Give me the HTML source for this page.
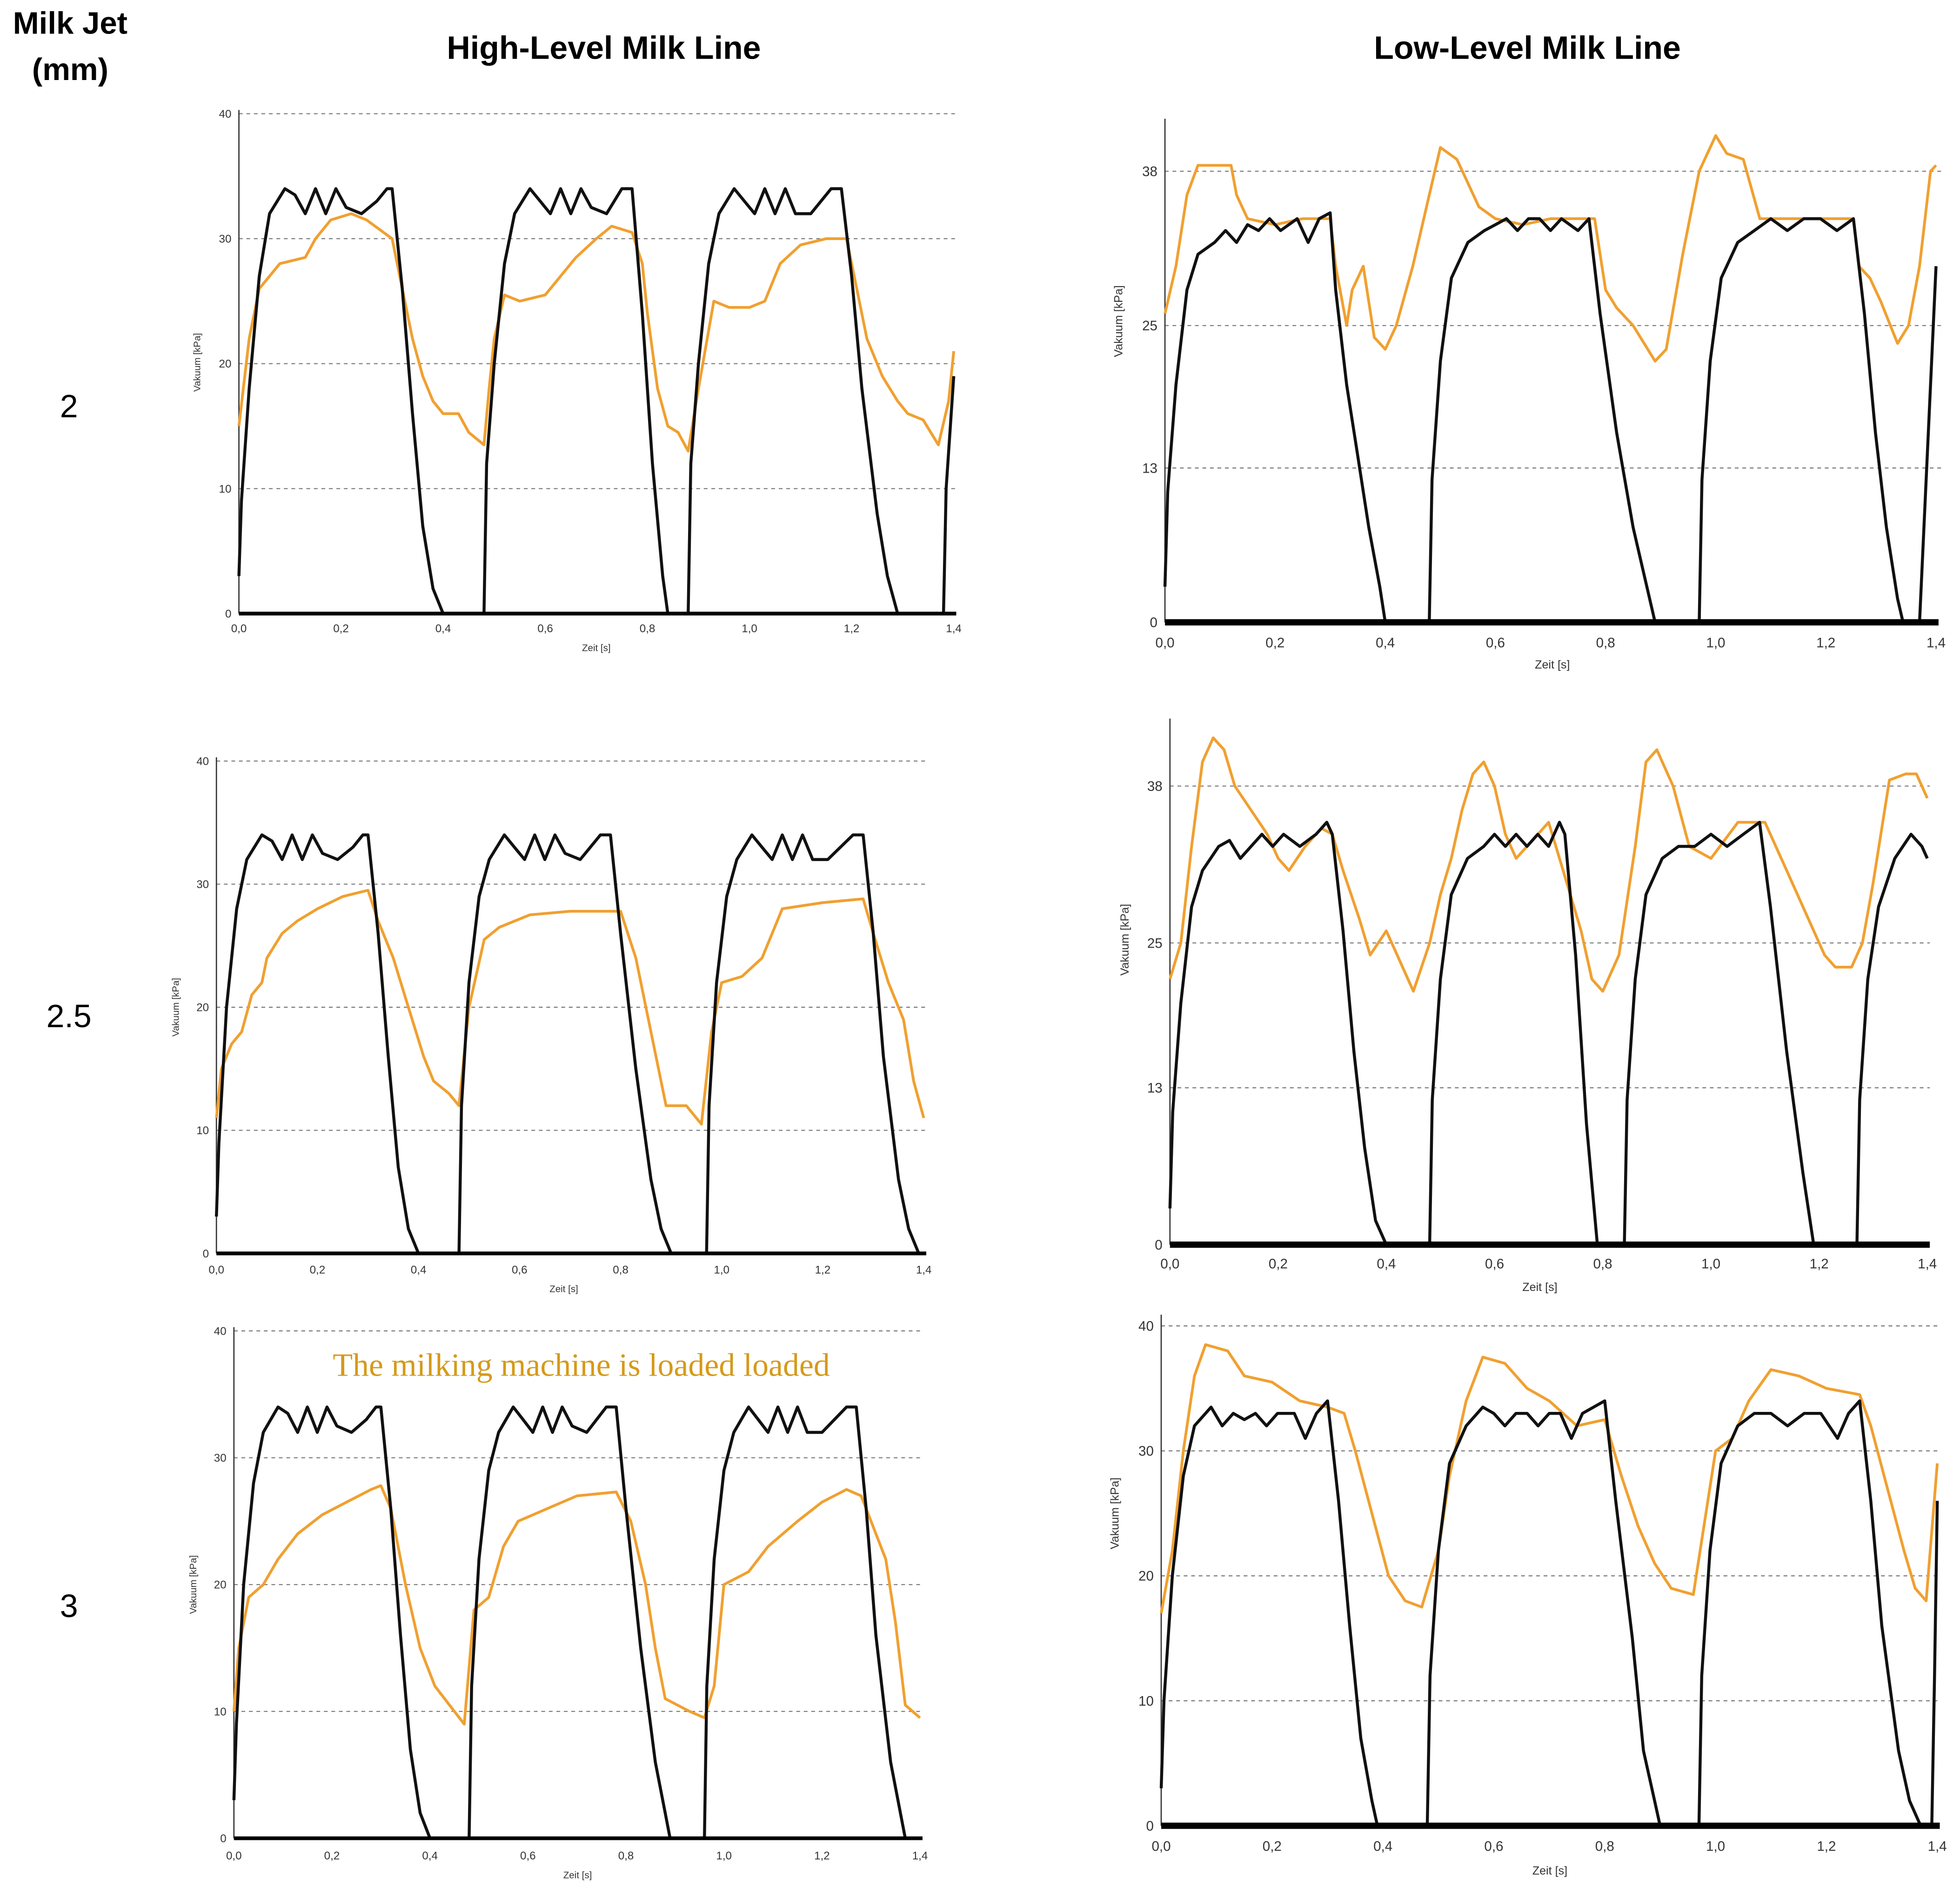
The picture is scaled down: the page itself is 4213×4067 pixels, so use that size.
<!DOCTYPE html>
<html><head><meta charset="utf-8"><style>
html,body{margin:0;padding:0;background:#fff}
svg{display:block}
</style></head><body>
<svg id="chart" xmlns="http://www.w3.org/2000/svg" width="4213" height="4067" viewBox="0 0 1568 1514" font-family="Liberation Sans, sans-serif">
<rect width="1568" height="1514" fill="#fff"/>
<text x="56" y="27" text-anchor="middle" font-size="25" font-weight="bold">Milk Jet</text>
<text x="56" y="64" text-anchor="middle" font-size="25" font-weight="bold">(mm)</text>
<text x="483" y="47" text-anchor="middle" font-size="26" font-weight="bold">High-Level Milk Line</text>
<text x="1222" y="47" text-anchor="middle" font-size="26" font-weight="bold">Low-Level Milk Line</text>
<text x="55" y="334" text-anchor="middle" font-size="26">2</text>
<text x="55" y="822" text-anchor="middle" font-size="26">2.5</text>
<text x="55" y="1294" text-anchor="middle" font-size="26">3</text>
<text x="465" y="1101" text-anchor="middle" font-size="26" font-family="Liberation Serif, serif" fill="#d59a1a">The milking machine is loaded loaded</text>
<g id="panels"></g>
</svg>
<script>
const xTickLabels = ["0,0","0,2","0,4","0,6","0,8","1,0","1,2","1,4"];
const xTickValues = [0,0.2,0.4,0.6,0.8,1.0,1.2,1.4];
const hlYTicks = [0,10,20,30,40];
const ll38YTicks = [0,13,25,38];
const ll40YTicks = [0,10,20,30,40];

const black1 = [[0,3],[0.005,9],[0.02,18],[0.04,27],[0.06,32],[0.09,34],[0.11,33.5],[0.13,32],[0.15,34],[0.17,32],[0.19,34],[0.21,32.5],[0.24,32],[0.27,33],[0.29,34],[0.3,34],[0.32,26],[0.34,16],[0.36,7],[0.38,2],[0.4,0],[0.48,0],[0.485,12],[0.5,20],[0.52,28],[0.54,32],[0.57,34],[0.59,33],[0.61,32],[0.63,34],[0.65,32],[0.67,34],[0.69,32.5],[0.72,32],[0.75,34],[0.77,34],[0.79,24],[0.81,12],[0.83,3],[0.84,0],[0.88,0],[0.885,12],[0.9,20],[0.92,28],[0.94,32],[0.97,34],[0.99,33],[1.01,32],[1.03,34],[1.05,32],[1.07,34],[1.09,32],[1.12,32],[1.16,34],[1.18,34],[1.2,27],[1.22,18],[1.25,8],[1.27,3],[1.29,0],[1.38,0],[1.385,10],[1.4,19]];
const orange1 = [[0,15],[0.02,22],[0.04,26],[0.06,27],[0.08,28],[0.13,28.5],[0.15,30],[0.18,31.5],[0.22,32],[0.25,31.5],[0.3,30],[0.32,26],[0.34,22],[0.36,19],[0.38,17],[0.4,16],[0.43,16],[0.45,14.5],[0.48,13.5],[0.49,18],[0.5,22],[0.52,25.5],[0.55,25],[0.6,25.5],[0.63,27],[0.66,28.5],[0.7,30],[0.73,31],[0.77,30.5],[0.79,28],[0.8,24],[0.82,18],[0.84,15],[0.86,14.5],[0.88,13],[0.9,18],[0.93,25],[0.96,24.5],[1.0,24.5],[1.03,25],[1.06,28],[1.1,29.5],[1.15,30],[1.19,30],[1.21,26],[1.23,22],[1.26,19],[1.29,17],[1.31,16],[1.34,15.5],[1.37,13.5],[1.39,17],[1.4,21]];

const black2 = [[0,3],[0.005,11],[0.02,20],[0.04,28],[0.06,31],[0.09,32],[0.11,33],[0.13,32],[0.15,33.5],[0.17,33],[0.19,34],[0.21,33],[0.24,34],[0.26,32],[0.28,34],[0.3,34.5],[0.31,28],[0.33,20],[0.35,14],[0.37,8],[0.39,3],[0.4,0],[0.48,0],[0.485,12],[0.5,22],[0.52,29],[0.55,32],[0.58,33],[0.6,33.5],[0.62,34],[0.64,33],[0.66,34],[0.68,34],[0.7,33],[0.72,34],[0.75,33],[0.77,34],[0.79,26],[0.82,16],[0.85,8],[0.88,2],[0.89,0],[0.97,0],[0.975,12],[0.99,22],[1.01,29],[1.04,32],[1.07,33],[1.1,34],[1.13,33],[1.16,34],[1.19,34],[1.22,33],[1.25,34],[1.27,26],[1.29,16],[1.31,8],[1.33,2],[1.34,0],[1.37,0],[1.375,5],[1.39,20],[1.4,30]];
const orange2 = [[0,26],[0.02,30],[0.04,36],[0.06,38.5],[0.12,38.5],[0.13,36],[0.15,34],[0.2,33.5],[0.25,34],[0.3,34],[0.31,30],[0.33,25],[0.34,28],[0.36,30],[0.38,24],[0.4,23],[0.42,25],[0.45,30],[0.48,36],[0.5,40],[0.53,39],[0.55,37],[0.57,35],[0.6,34],[0.65,33.5],[0.7,34],[0.78,34],[0.8,28],[0.82,26.5],[0.85,25],[0.89,22],[0.91,23],[0.94,31],[0.97,38],[1.0,41],[1.02,39.5],[1.05,39],[1.08,34],[1.12,34],[1.2,34],[1.25,34],[1.26,30],[1.28,29],[1.3,27],[1.33,23.5],[1.35,25],[1.37,30],[1.39,38],[1.4,38.5]];

const black3 = [[0,3],[0.005,9],[0.02,20],[0.04,28],[0.06,32],[0.09,34],[0.11,33.5],[0.13,32],[0.15,34],[0.17,32],[0.19,34],[0.21,32.5],[0.24,32],[0.27,33],[0.29,34],[0.3,34],[0.32,26],[0.34,16],[0.36,7],[0.38,2],[0.4,0],[0.48,0],[0.485,12],[0.5,22],[0.52,29],[0.54,32],[0.57,34],[0.59,33],[0.61,32],[0.63,34],[0.65,32],[0.67,34],[0.69,32.5],[0.72,32],[0.76,34],[0.78,34],[0.8,26],[0.83,15],[0.86,6],[0.88,2],[0.9,0],[0.97,0],[0.975,12],[0.99,22],[1.01,29],[1.03,32],[1.06,34],[1.08,33],[1.1,32],[1.12,34],[1.14,32],[1.16,34],[1.18,32],[1.21,32],[1.26,34],[1.28,34],[1.3,26],[1.32,16],[1.35,6],[1.37,2],[1.39,0],[1.4,0]];
const orange3 = [[0,11],[0.01,15],[0.03,17],[0.05,18],[0.07,21],[0.09,22],[0.1,24],[0.13,26],[0.16,27],[0.2,28],[0.25,29],[0.3,29.5],[0.32,27],[0.35,24],[0.38,20],[0.41,16],[0.43,14],[0.46,13],[0.48,12],[0.5,20],[0.53,25.5],[0.56,26.5],[0.62,27.5],[0.7,27.8],[0.8,27.8],[0.83,24],[0.86,18],[0.89,12],[0.93,12],[0.96,10.5],[0.98,18],[1.0,22],[1.04,22.5],[1.08,24],[1.12,28],[1.2,28.5],[1.28,28.8],[1.3,26],[1.33,22],[1.36,19],[1.38,14],[1.4,11]];

const black4 = [[0,3],[0.005,11],[0.02,20],[0.04,28],[0.06,31],[0.09,33],[0.11,33.5],[0.13,32],[0.15,33],[0.17,34],[0.19,33],[0.21,34],[0.24,33],[0.27,34],[0.29,35],[0.3,34],[0.32,26],[0.34,16],[0.36,8],[0.38,2],[0.4,0],[0.48,0],[0.485,12],[0.5,22],[0.52,29],[0.55,32],[0.58,33],[0.6,34],[0.62,33],[0.64,34],[0.66,33],[0.68,34],[0.7,33],[0.72,35],[0.73,34],[0.75,24],[0.77,10],[0.79,0],[0.84,0],[0.845,12],[0.86,22],[0.88,29],[0.91,32],[0.94,33],[0.97,33],[1.0,34],[1.03,33],[1.06,34],[1.09,35],[1.11,28],[1.14,16],[1.17,6],[1.19,0],[1.27,0],[1.275,12],[1.29,22],[1.31,28],[1.34,32],[1.37,34],[1.39,33],[1.4,32]];
const orange4 = [[0,22],[0.02,25],[0.04,33],[0.06,40],[0.08,42],[0.1,41],[0.12,38],[0.15,36],[0.18,34],[0.2,32],[0.22,31],[0.25,33],[0.28,34.5],[0.3,34],[0.32,31],[0.35,27],[0.37,24],[0.4,26],[0.42,24],[0.45,21],[0.48,25],[0.5,29],[0.52,32],[0.54,36],[0.56,39],[0.58,40],[0.6,38],[0.62,34],[0.64,32],[0.66,33],[0.7,35],[0.72,32],[0.76,26],[0.78,22],[0.8,21],[0.83,24],[0.86,33],[0.88,40],[0.9,41],[0.93,38],[0.96,33],[1.0,32],[1.05,35],[1.1,35],[1.14,31],[1.18,27],[1.21,24],[1.23,23],[1.26,23],[1.28,25],[1.3,30],[1.33,38.5],[1.36,39],[1.38,39],[1.4,37]];

const black5 = [[0,3],[0.005,9],[0.02,20],[0.04,28],[0.06,32],[0.09,34],[0.11,33.5],[0.13,32],[0.15,34],[0.17,32],[0.19,34],[0.21,32.5],[0.24,32],[0.27,33],[0.29,34],[0.3,34],[0.32,26],[0.34,16],[0.36,7],[0.38,2],[0.4,0],[0.48,0],[0.485,12],[0.5,22],[0.52,29],[0.54,32],[0.57,34],[0.59,33],[0.61,32],[0.63,34],[0.65,32],[0.67,34],[0.69,32.5],[0.72,32],[0.76,34],[0.78,34],[0.8,26],[0.83,15],[0.86,6],[0.88,2],[0.89,0],[0.96,0],[0.965,12],[0.98,22],[1.0,29],[1.02,32],[1.05,34],[1.07,33],[1.09,32],[1.11,34],[1.13,32],[1.15,34],[1.17,32],[1.2,32],[1.25,34],[1.27,34],[1.29,26],[1.31,16],[1.34,6],[1.36,2],[1.37,0],[1.4,0]];
const orange5 = [[0,10],[0.01,15],[0.03,19],[0.06,20],[0.09,22],[0.13,24],[0.18,25.5],[0.23,26.5],[0.28,27.5],[0.3,27.8],[0.32,26],[0.35,20],[0.38,15],[0.41,12],[0.44,10.5],[0.47,9],[0.49,18],[0.52,19],[0.55,23],[0.58,25],[0.64,26],[0.7,27],[0.78,27.3],[0.81,25],[0.84,20],[0.86,15],[0.88,11],[0.93,10],[0.96,9.5],[0.98,12],[1.0,20],[1.05,21],[1.09,23],[1.15,25],[1.2,26.5],[1.25,27.5],[1.28,27],[1.3,25],[1.33,22],[1.35,17],[1.37,10.5],[1.4,9.5]];

const black6 = [[0,3],[0.005,10],[0.02,20],[0.04,28],[0.06,32],[0.09,33.5],[0.11,32],[0.13,33],[0.15,32.5],[0.17,33],[0.19,32],[0.21,33],[0.24,33],[0.26,31],[0.28,33],[0.3,34],[0.32,26],[0.34,16],[0.36,7],[0.38,2],[0.39,0],[0.48,0],[0.485,12],[0.5,22],[0.52,29],[0.55,32],[0.58,33.5],[0.6,33],[0.62,32],[0.64,33],[0.66,33],[0.68,32],[0.7,33],[0.72,33],[0.74,31],[0.76,33],[0.8,34],[0.82,26],[0.85,15],[0.87,6],[0.89,2],[0.9,0],[0.97,0],[0.975,12],[0.99,22],[1.01,29],[1.04,32],[1.07,33],[1.1,33],[1.13,32],[1.16,33],[1.19,33],[1.22,31],[1.24,33],[1.26,34],[1.28,26],[1.3,16],[1.33,6],[1.35,2],[1.37,0],[1.39,0],[1.395,12],[1.4,26]];
const orange6 = [[0,17],[0.02,22],[0.04,30],[0.06,36],[0.08,38.5],[0.12,38],[0.15,36],[0.2,35.5],[0.25,34],[0.3,33.5],[0.33,33],[0.35,30],[0.38,25],[0.41,20],[0.44,18],[0.47,17.5],[0.5,22],[0.52,28],[0.55,34],[0.58,37.5],[0.62,37],[0.66,35],[0.7,34],[0.75,32],[0.8,32.5],[0.83,28],[0.86,24],[0.89,21],[0.92,19],[0.96,18.5],[1.0,30],[1.03,31],[1.06,34],[1.1,36.5],[1.15,36],[1.2,35],[1.26,34.5],[1.28,32],[1.31,27],[1.34,22],[1.36,19],[1.38,18],[1.4,29]];

const panels = [
 {name:"hl-2", x0:191,x1:763,y0:491,yTop:91,vTop:40,ticks:hlYTicks,axisTop:88,gridEnd:765,tickY:506,zeitX:477,zeitY:521,vakX:160,vakY:290,fs:9,thick:3,black:black1,orange:orange1},
 {name:"ll-2", x0:932,x1:1549,y0:498,yTop:137,vTop:38,ticks:ll38YTicks,axisTop:95,gridEnd:1553,tickY:518,zeitX:1242,zeitY:535,vakX:898,vakY:257,fs:11,thick:5,black:black2,orange:orange2},
 {name:"hl-2-5", x0:173,x1:739,y0:1003,yTop:609,vTop:40,ticks:hlYTicks,axisTop:606,gridEnd:741,tickY:1019,zeitX:451,zeitY:1034,vakX:143,vakY:806,fs:9,thick:3,black:black3,orange:orange3},
 {name:"ll-2-5", x0:936,x1:1542,y0:996,yTop:629,vTop:38,ticks:ll38YTicks,axisTop:575,gridEnd:1544,tickY:1015,zeitX:1232,zeitY:1033,vakX:903,vakY:752,fs:11,thick:5,black:black4,orange:orange4},
 {name:"hl-3", x0:187,x1:736,y0:1471,yTop:1065,vTop:40,ticks:hlYTicks,axisTop:1062,gridEnd:738,tickY:1488,zeitX:462,zeitY:1503,vakX:157,vakY:1268,fs:9,thick:3,black:black5,orange:orange5},
 {name:"ll-3", x0:929,x1:1550,y0:1461,yTop:1061,vTop:40,ticks:ll40YTicks,axisTop:1052,gridEnd:1553,tickY:1481,zeitX:1240,zeitY:1500,vakX:895,vakY:1211,fs:11,thick:5,black:black6,orange:orange6}
];
const NS="http://www.w3.org/2000/svg";
const root=document.getElementById("panels");
function mk(tag,attrs,parent){const e=document.createElementNS(NS,tag);for(const k in attrs)e.setAttribute(k,attrs[k]);parent.appendChild(e);return e;}
panels.forEach(p=>{
  const sx=t=>p.x0+(p.x1-p.x0)*t/1.4;
  const sy=v=>p.y0-(p.y0-p.yTop)*v/p.vTop;
  const g=mk("g",{},root);
  
  
  p.ticks.forEach(v=>{
    if(v>0){
      const l=mk("line",{x1:p.x0,x2:p.gridEnd,y1:sy(v),y2:sy(v),stroke:"#777","stroke-width":0.8,"stroke-dasharray":"3,3"},g);
      
      
    }
    const t=mk("text",{x:p.x0-6,y:sy(v)+p.fs*0.35,"text-anchor":"end","font-size":p.fs,fill:"#333"},g);
    
    
    t.textContent=v;
  });
  const ya=mk("line",{x1:p.x0,x2:p.x0,y1:p.axisTop,y2:p.y0,stroke:"#333","stroke-width":1},g);
  
  
  xTickValues.forEach((tv,i)=>{
    const t=mk("text",{x:sx(tv),y:p.tickY,"text-anchor":"middle","font-size":p.fs,fill:"#333"},g);
    
    
    t.textContent=xTickLabels[i];
  });
  const z=mk("text",{x:p.zeitX,y:p.zeitY,"text-anchor":"middle","font-size":p.fs*0.85,fill:"#333"},g);
  
  
  z.textContent="Zeit [s]";
  const vk=mk("text",{x:p.vakX,y:p.vakY,"text-anchor":"middle","font-size":p.fs*0.85,fill:"#333",transform:`rotate(-90 ${p.vakX} ${p.vakY})`},g);
  
  
  vk.textContent="Vakuum [kPa]";
  const toPath=arr=>arr.map((d,i)=>(i?"L":"M")+sx(d[0]).toFixed(1)+","+sy(d[1]).toFixed(1)).join("");
  const ob=mk("path",{d:toPath(p.orange),fill:"none",stroke:"#f0a030","stroke-width":2.2,"stroke-linejoin":"round"},g);
  
  
  const bk=mk("path",{d:toPath(p.black),fill:"none",stroke:"#111","stroke-width":2.4,"stroke-linejoin":"round"},g);
  
  
  const xa=mk("line",{x1:p.x0,x2:p.x1+2,y1:p.y0,y2:p.y0,stroke:"#000","stroke-width":p.thick},g);
  
  
});
</script>
</body></html>
